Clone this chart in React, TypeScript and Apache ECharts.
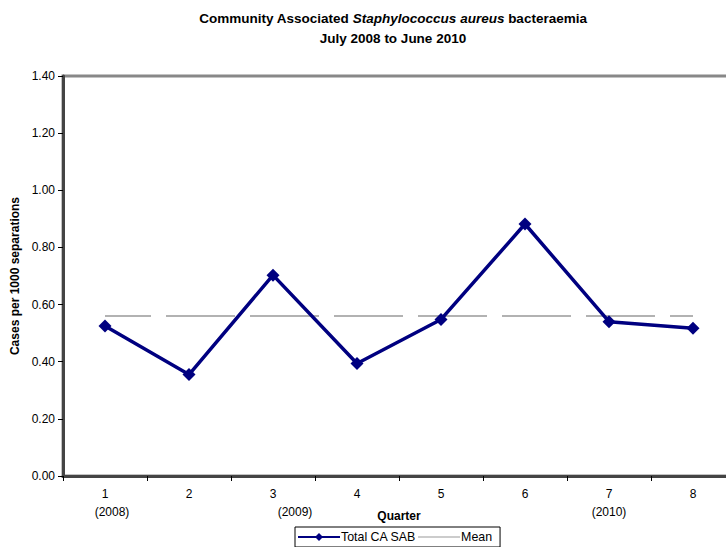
import React, { useEffect, useRef } from "react";
import * as echarts from "echarts";

const categories = ["1", "2", "3", "4", "5", "6", "7", "8"];
const yearLabels = ["(2008)", "", "(2009)", "", "", "", "(2010)", ""];
const totalCASAB = [0.525, 0.355, 0.703, 0.394, 0.548, 0.882, 0.54, 0.517];
const meanValue = 0.56;
const yTicks = { min: 0, max: 1.4, interval: 0.2 };

const FONT = 'Arial, "Liberation Sans", sans-serif';

export default function App() {
  const ref = useRef<HTMLDivElement>(null);
  useEffect(() => {
    const chart = echarts.init(ref.current!, undefined, { renderer: "svg" });
    const meanData = categories.map(() => meanValue);
    chart.setOption({
      animation: false,
      backgroundColor: "#fff",
      textStyle: { fontFamily: FONT },
      title: {
        left: "center",
        top: 8,
        text: "{b|Community Associated }{i|Staphylococcus aureus}{b| bacteraemia}\n{b|July 2008 to June 2010}",
        textStyle: {
          fontFamily: FONT,
          rich: {
            b: { fontSize: 13.5, fontWeight: "bold", color: "#000", fontFamily: FONT, lineHeight: 20 },
            i: { fontSize: 13.5, fontWeight: "bold", fontStyle: "italic", color: "#000", fontFamily: FONT, lineHeight: 20 },
          },
        },
        padding: 0,
      },
      grid: {
        left: 63,
        right: 51,
        top: 76,
        bottom: 71,
        show: true,
        borderColor: "#888",
        borderWidth: 3,
        backgroundColor: "#fff",
      },
      legend: {
        left: 295,
        top: 527,
        orient: "horizontal",
        borderColor: "#000",
        borderWidth: 1,
        borderRadius: 0,
        padding: [4, 8, 4, 2],
        itemWidth: 42,
        itemHeight: 10,
        itemGap: 2,
        textStyle: { fontFamily: FONT, fontSize: 12.4, color: "#000", padding: [0, 0, 0, -4] },
        data: [
          { name: "Total CA SAB" },
          { name: "Mean", icon: "path://M0 0 H42 V1 H0 Z" },
        ],
      },
      xAxis: [
        {
          type: "category",
          data: categories,
          boundaryGap: true,
          position: "bottom",
          axisLine: { show: true, lineStyle: { color: "#444", width: 3 } },
          axisTick: { show: true, length: 5, inside: false, alignWithLabel: false, lineStyle: { color: "#000", width: 1 } },
          axisLabel: { margin: 12, fontSize: 12, color: "#000", fontFamily: FONT },
          splitLine: { show: false },
        },
        {
          type: "category",
          data: categories,
          boundaryGap: true,
          position: "bottom",
          offset: 0,
          axisLine: { show: false },
          axisTick: { show: false },
          axisLabel: {
            margin: 30,
            fontSize: 12,
            color: "#000",
            fontFamily: FONT,
            formatter: (_v: string, i: number) =>
              yearLabels[i] === "(2009)" ? `{s|${yearLabels[i]}}` : yearLabels[i] === "(2008)" ? `{t|${yearLabels[i]}}` : yearLabels[i],
            rich: {
              s: { fontSize: 12, color: "#000", fontFamily: FONT, padding: [0, 0, 0, 44] },
              t: { fontSize: 12, color: "#000", fontFamily: FONT, padding: [0, 0, 0, 14] },
            },
          },
          name: "Quarter",
          nameLocation: "middle",
          nameGap: 34,
          nameMoveOverlap: false,
          nameTextStyle: { fontSize: 12, fontWeight: "bold", color: "#000", fontFamily: FONT },
          splitLine: { show: false },
        },
      ],
      yAxis: {
        type: "value",
        min: yTicks.min,
        max: yTicks.max,
        interval: yTicks.interval,
        axisLine: { show: true, lineStyle: { color: "#444", width: 3 } },
        axisTick: { show: true, length: 5, lineStyle: { color: "#000", width: 1 } },
        axisLabel: {
          fontSize: 12,
          color: "#000",
          margin: 8,
          fontFamily: FONT,
          formatter: (v: number) => v.toFixed(2),
        },
        splitLine: { show: false },
        name: "Cases per 1000 separations",
        nameLocation: "middle",
        nameGap: 42,
        nameRotate: 90,
        nameMoveOverlap: false,
        nameTextStyle: { fontSize: 12, fontWeight: "bold", color: "#000", fontFamily: FONT },
      },
      series: [
        {
          name: "Mean",
          type: "line",
          data: meanData,
          symbol: "none",
          showSymbol: false,
          lineStyle: { color: "#999", width: 1.5, type: [69, 15], dashOffset: 23 },
          itemStyle: { color: "#999" },
          z: 2,
        },
        {
          name: "Total CA SAB",
          type: "line",
          data: totalCASAB,
          symbol: "diamond",
          symbolSize: 13,
          lineStyle: { color: "#000080", width: 3.5 },
          itemStyle: { color: "#000080" },
          z: 3,
        },
      ],
    });
    return () => chart.dispose();
  }, []);
  return (
    <div
      style={{
        position: "fixed",
        left: 0,
        top: 0,
        width: 726,
        height: 547,
        overflow: "hidden",
        background: "#fff",
      }}
    >
      <div ref={ref} style={{ width: 786, height: 547 }} />
    </div>
  );
}
